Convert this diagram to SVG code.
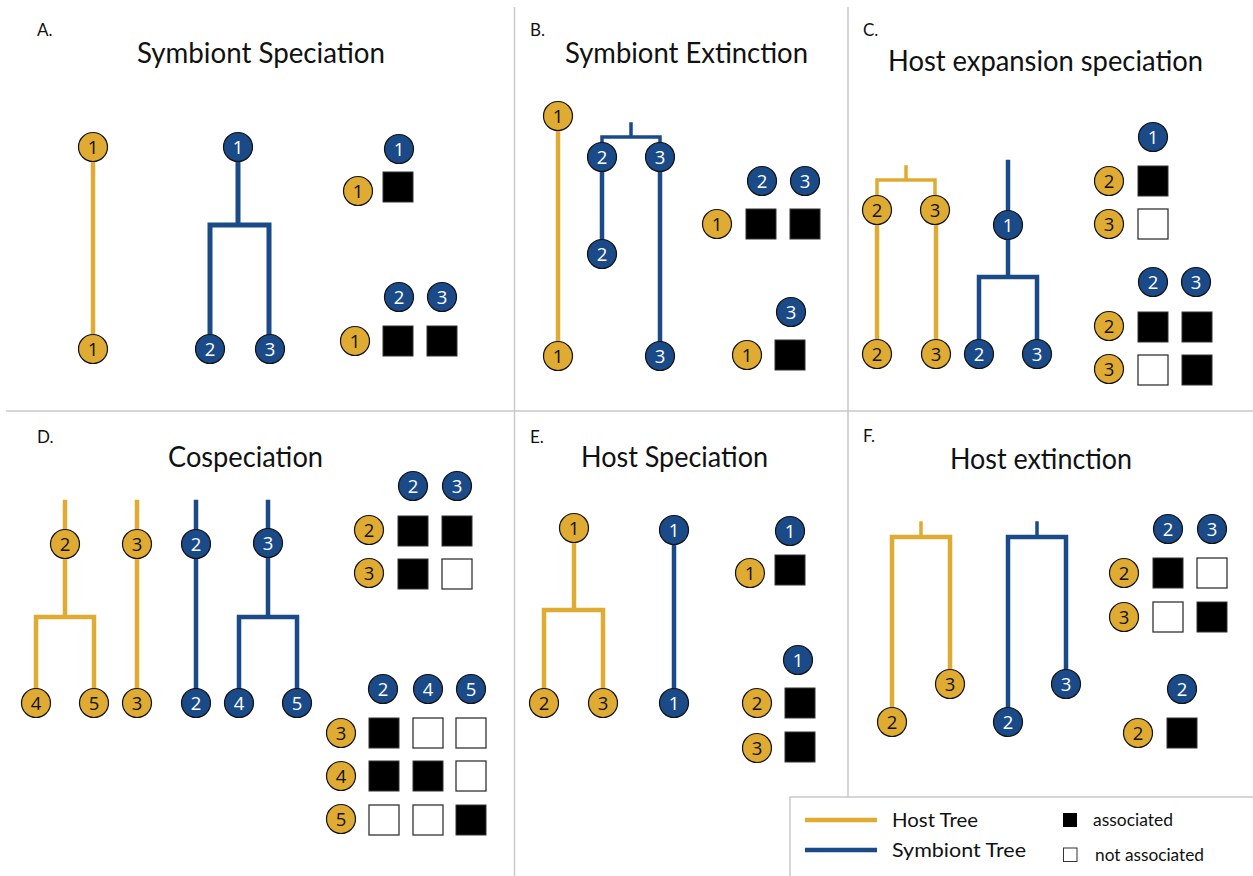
<svg xmlns="http://www.w3.org/2000/svg" width="1253" height="876" viewBox="0 0 1253 876">
  <style>
    .frame { stroke: #c9c9c9; stroke-width: 1.5; fill: none; }
    .host { stroke: #dfab33; stroke-width: 4.5; fill: none; stroke-linecap: square; }
    .sym { stroke: #1b4a89; stroke-width: 4.5; fill: none; stroke-linecap: square; }
    .hn circle { fill: #dfab33; stroke: #111; stroke-width: 1.2; }
    .sn circle { fill: #1b4a89; stroke: #111; stroke-width: 1.2; }
    .hn text, .sn text { font-family: "Open Sans", "Noto Sans", sans-serif; font-size: 18.5px; text-anchor: middle; }
    .hn text { fill: #111; }
    .sn text { fill: #fff; }
    .on { fill: #000; stroke: #333; stroke-width: 1; }
    .off { fill: #fff; stroke: #333; stroke-width: 1.3; }
    .title { font-family: "Lato", "Open Sans", sans-serif; font-size: 28px; fill: #111; text-anchor: middle; }
    .tag { font-family: "Lato", "Open Sans", sans-serif; font-size: 17px; fill: #111; }
    .leg { font-family: "Lato", "Open Sans", sans-serif; font-size: 19px; fill: #111; }
    .legs { font-family: "Lato", "Open Sans", sans-serif; font-size: 16.5px; fill: #111; }
  </style>

  <rect x="0" y="0" width="1253" height="876" fill="#fff"/>

  <!-- panel frame -->
  <g id="frame">
    <line class="frame" x1="514.5" y1="7" x2="514.5" y2="876"/>
    <line class="frame" x1="848" y1="7" x2="848" y2="797"/>
    <line class="frame" x1="6" y1="411" x2="1253" y2="411"/>
  </g>

  <!-- panel tags and titles -->
  <g id="labels">
    <text class="tag" x="37" y="36">A.</text>
    <text class="tag" x="530" y="36">B.</text>
    <text class="tag" x="863" y="36">C.</text>
    <text class="tag" x="37" y="443">D.</text>
    <text class="tag" x="530" y="443">E.</text>
    <text class="tag" x="863" y="442">F.</text>
    <text class="title" x="261" y="63" textLength="248" lengthAdjust="spacingAndGlyphs">Symbiont Speciation</text>
    <text class="title" x="686.5" y="63" textLength="243" lengthAdjust="spacingAndGlyphs">Symbiont Extinction</text>
    <text class="title" x="1045.5" y="71" textLength="315" lengthAdjust="spacingAndGlyphs">Host expansion speciation</text>
    <text class="title" x="245.5" y="467" textLength="155" lengthAdjust="spacingAndGlyphs">Cospeciation</text>
    <text class="title" x="674.5" y="467" textLength="187" lengthAdjust="spacingAndGlyphs">Host Speciation</text>
    <text class="title" x="1041" y="469" textLength="182" lengthAdjust="spacingAndGlyphs">Host extinction</text>
  </g>

  <!-- tree branches -->
  <g id="connectors">
    <!-- A -->
    <path class="host" d="M93 147 V349"/>
    <path class="sym" style="stroke-width:5" d="M238 147 V225 M210 349 V225 H269 V349"/>
    <!-- B -->
    <path class="host" d="M558 116 V356"/>
    <path class="sym" style="stroke-width:3.5" d="M631 124 V137 M602 157 V137 H660 V157"/>
    <path class="sym" d="M602 157 V254 M660 157 V356"/>
    <!-- C -->
    <path class="host" style="stroke-width:3.5" d="M906 167 V180 M877 210 V180 H935 V210"/>
    <path class="host" d="M877 210 V354 M936 210 V354"/>
    <path class="sym" d="M1008 162 V277 M979 354 V277 H1037 V354"/>
    <!-- D -->
    <path class="host" d="M65 502 V617 M36 703 V617 H94 V703"/>
    <path class="host" d="M137 502 V703"/>
    <path class="sym" d="M196 502 V703"/>
    <path class="sym" d="M268 502 V617 M239 703 V617 H297 V703"/>
    <!-- E -->
    <path class="host" d="M574 528 V610 M544 703 V610 H603 V703"/>
    <path class="sym" d="M674 530 V703"/>
    <!-- F -->
    <path class="host" style="stroke-width:3.5" d="M921 523 V537"/>
    <path class="host" d="M892 722 V537 H950 V684"/>
    <path class="sym" style="stroke-width:3.5" d="M1037 523 V537"/>
    <path class="sym" d="M1008 722 V537 H1066 V684"/>
  </g>

  <!-- A: tree nodes -->
  <g id="a-h1-top" class="hn"><circle cx="93" cy="147" r="14.5"/><text x="93" y="153.5">1</text></g>
  <g id="a-h1-tip" class="hn"><circle cx="93" cy="349" r="14.5"/><text x="93" y="355.5">1</text></g>
  <g id="a-s1" class="sn"><circle cx="238" cy="147" r="14.5"/><text x="238" y="153.5">1</text></g>
  <g id="a-s2" class="sn"><circle cx="210" cy="349" r="14.5"/><text x="210" y="355.5">2</text></g>
  <g id="a-s3" class="sn"><circle cx="270" cy="349" r="14.5"/><text x="270" y="355.5">3</text></g>
  <!-- A: matrices -->
  <g id="a-m1">
    <g class="sn"><circle cx="399" cy="149" r="14.5"/><text x="399" y="155.5">1</text></g>
    <g class="hn"><circle cx="358" cy="191" r="14.5"/><text x="358" y="197.5">1</text></g>
    <rect class="on" x="383" y="172" width="30" height="30"/>
  </g>
  <g id="a-m2">
    <g class="sn"><circle cx="399" cy="297" r="14.5"/><text x="399" y="303.5">2</text></g>
    <g class="sn"><circle cx="442" cy="297" r="14.5"/><text x="442" y="303.5">3</text></g>
    <g class="hn"><circle cx="355" cy="341" r="14.5"/><text x="355" y="347.5">1</text></g>
    <rect class="on" x="383" y="326" width="30" height="30"/>
    <rect class="on" x="427" y="326" width="30" height="30"/>
  </g>

  <!-- B: tree nodes -->
  <g id="b-h1-top" class="hn"><circle cx="558" cy="116" r="14.5"/><text x="558" y="122.5">1</text></g>
  <g id="b-h1-tip" class="hn"><circle cx="558" cy="356" r="14.5"/><text x="558" y="362.5">1</text></g>
  <g id="b-s2" class="sn"><circle cx="602" cy="157" r="14.5"/><text x="602" y="163.5">2</text></g>
  <g id="b-s3" class="sn"><circle cx="660" cy="157" r="14.5"/><text x="660" y="163.5">3</text></g>
  <g id="b-s2-tip" class="sn"><circle cx="602" cy="254" r="14.5"/><text x="602" y="260.5">2</text></g>
  <g id="b-s3-tip" class="sn"><circle cx="660" cy="356" r="14.5"/><text x="660" y="362.5">3</text></g>
  <!-- B: matrices -->
  <g id="b-m1">
    <g class="sn"><circle cx="762" cy="181" r="14.5"/><text x="762" y="187.5">2</text></g>
    <g class="sn"><circle cx="805" cy="181" r="14.5"/><text x="805" y="187.5">3</text></g>
    <g class="hn"><circle cx="717" cy="224" r="14.5"/><text x="717" y="230.5">1</text></g>
    <rect class="on" x="746" y="209" width="30" height="30"/>
    <rect class="on" x="790" y="209" width="30" height="30"/>
  </g>
  <g id="b-m2">
    <g class="sn"><circle cx="791" cy="312" r="14.5"/><text x="791" y="318.5">3</text></g>
    <g class="hn"><circle cx="747" cy="355" r="14.5"/><text x="747" y="361.5">1</text></g>
    <rect class="on" x="775" y="340" width="30" height="30"/>
  </g>

  <!-- C: tree nodes -->
  <g id="c-h2" class="hn"><circle cx="877" cy="210" r="14.5"/><text x="877" y="216.5">2</text></g>
  <g id="c-h3" class="hn"><circle cx="935" cy="210" r="14.5"/><text x="935" y="216.5">3</text></g>
  <g id="c-h2-tip" class="hn"><circle cx="877" cy="354" r="14.5"/><text x="877" y="360.5">2</text></g>
  <g id="c-h3-tip" class="hn"><circle cx="936" cy="354" r="14.5"/><text x="936" y="360.5">3</text></g>
  <g id="c-s1" class="sn"><circle cx="1008" cy="225" r="14.5"/><text x="1008" y="231.5">1</text></g>
  <g id="c-s2" class="sn"><circle cx="979" cy="354" r="14.5"/><text x="979" y="360.5">2</text></g>
  <g id="c-s3" class="sn"><circle cx="1037" cy="354" r="14.5"/><text x="1037" y="360.5">3</text></g>
  <!-- C: matrices -->
  <g id="c-m1">
    <g class="sn"><circle cx="1153" cy="137" r="14.5"/><text x="1153" y="143.5">1</text></g>
    <g class="hn"><circle cx="1109" cy="181" r="14.5"/><text x="1109" y="187.5">2</text></g>
    <g class="hn"><circle cx="1109" cy="224" r="14.5"/><text x="1109" y="230.5">3</text></g>
    <rect class="on" x="1138" y="166" width="30" height="30"/>
    <rect class="off" x="1138" y="209" width="30" height="30"/>
  </g>
  <g id="c-m2">
    <g class="sn"><circle cx="1153" cy="282" r="14.5"/><text x="1153" y="288.5">2</text></g>
    <g class="sn"><circle cx="1196" cy="282" r="14.5"/><text x="1196" y="288.5">3</text></g>
    <g class="hn"><circle cx="1109" cy="326" r="14.5"/><text x="1109" y="332.5">2</text></g>
    <g class="hn"><circle cx="1109" cy="369" r="14.5"/><text x="1109" y="375.5">3</text></g>
    <rect class="on" x="1138" y="312" width="30" height="30"/>
    <rect class="on" x="1182" y="312" width="30" height="30"/>
    <rect class="off" x="1138" y="355" width="30" height="30"/>
    <rect class="on" x="1182" y="355" width="30" height="30"/>
  </g>

  <!-- D: tree nodes -->
  <g id="d-h2" class="hn"><circle cx="65" cy="544" r="14.5"/><text x="65" y="550.5">2</text></g>
  <g id="d-h3" class="hn"><circle cx="137" cy="544" r="14.5"/><text x="137" y="550.5">3</text></g>
  <g id="d-s2" class="sn"><circle cx="196" cy="544" r="14.5"/><text x="196" y="550.5">2</text></g>
  <g id="d-s3" class="sn"><circle cx="268" cy="543" r="14.5"/><text x="268" y="549.5">3</text></g>
  <g id="d-h4" class="hn"><circle cx="36" cy="703" r="14.5"/><text x="36" y="709.5">4</text></g>
  <g id="d-h5" class="hn"><circle cx="94" cy="703" r="14.5"/><text x="94" y="709.5">5</text></g>
  <g id="d-h3-tip" class="hn"><circle cx="137" cy="703" r="14.5"/><text x="137" y="709.5">3</text></g>
  <g id="d-s2-tip" class="sn"><circle cx="196" cy="703" r="14.5"/><text x="196" y="709.5">2</text></g>
  <g id="d-s4" class="sn"><circle cx="239" cy="703" r="14.5"/><text x="239" y="709.5">4</text></g>
  <g id="d-s5" class="sn"><circle cx="297" cy="703" r="14.5"/><text x="297" y="709.5">5</text></g>
  <!-- D: matrices -->
  <g id="d-m1">
    <g class="sn"><circle cx="413" cy="486" r="14.5"/><text x="413" y="492.5">2</text></g>
    <g class="sn"><circle cx="457" cy="486" r="14.5"/><text x="457" y="492.5">3</text></g>
    <g class="hn"><circle cx="369" cy="530" r="14.5"/><text x="369" y="536.5">2</text></g>
    <g class="hn"><circle cx="369" cy="573" r="14.5"/><text x="369" y="579.5">3</text></g>
    <rect class="on" x="398" y="516" width="30" height="30"/>
    <rect class="on" x="442" y="516" width="30" height="30"/>
    <rect class="on" x="398" y="559" width="30" height="30"/>
    <rect class="off" x="442" y="559" width="30" height="30"/>
  </g>
  <g id="d-m2">
    <g class="sn"><circle cx="383" cy="689" r="14.5"/><text x="383" y="695.5">2</text></g>
    <g class="sn"><circle cx="428" cy="689" r="14.5"/><text x="428" y="695.5">4</text></g>
    <g class="sn"><circle cx="471" cy="689" r="14.5"/><text x="471" y="695.5">5</text></g>
    <g class="hn"><circle cx="341" cy="733" r="14.5"/><text x="341" y="739.5">3</text></g>
    <g class="hn"><circle cx="341" cy="776" r="14.5"/><text x="341" y="782.5">4</text></g>
    <g class="hn"><circle cx="341" cy="819" r="14.5"/><text x="341" y="825.5">5</text></g>
    <rect class="on" x="369" y="718" width="30" height="30"/>
    <rect class="off" x="413" y="718" width="30" height="30"/>
    <rect class="off" x="456" y="718" width="30" height="30"/>
    <rect class="on" x="369" y="761" width="30" height="30"/>
    <rect class="on" x="413" y="761" width="30" height="30"/>
    <rect class="off" x="456" y="761" width="30" height="30"/>
    <rect class="off" x="369" y="805" width="30" height="30"/>
    <rect class="off" x="413" y="805" width="30" height="30"/>
    <rect class="on" x="456" y="805" width="30" height="30"/>
  </g>

  <!-- E: tree nodes -->
  <g id="e-h1" class="hn"><circle cx="574" cy="528" r="14.5"/><text x="574" y="534.5">1</text></g>
  <g id="e-h2" class="hn"><circle cx="544" cy="703" r="14.5"/><text x="544" y="709.5">2</text></g>
  <g id="e-h3" class="hn"><circle cx="603" cy="703" r="14.5"/><text x="603" y="709.5">3</text></g>
  <g id="e-s1-top" class="sn"><circle cx="674" cy="530" r="14.5"/><text x="674" y="536.5">1</text></g>
  <g id="e-s1-tip" class="sn"><circle cx="674" cy="703" r="14.5"/><text x="674" y="709.5">1</text></g>
  <!-- E: matrices -->
  <g id="e-m1">
    <g class="sn"><circle cx="790" cy="531" r="14.5"/><text x="790" y="537.5">1</text></g>
    <g class="hn"><circle cx="750" cy="573" r="14.5"/><text x="750" y="579.5">1</text></g>
    <rect class="on" x="775" y="555" width="30" height="30"/>
  </g>
  <g id="e-m2">
    <g class="sn"><circle cx="798" cy="660" r="14.5"/><text x="798" y="666.5">1</text></g>
    <g class="hn"><circle cx="757" cy="703" r="14.5"/><text x="757" y="709.5">2</text></g>
    <g class="hn"><circle cx="757" cy="748" r="14.5"/><text x="757" y="754.5">3</text></g>
    <rect class="on" x="785" y="688" width="30" height="30"/>
    <rect class="on" x="785" y="732" width="30" height="30"/>
  </g>

  <!-- F: tree nodes -->
  <g id="f-h2" class="hn"><circle cx="892" cy="722" r="14.5"/><text x="892" y="728.5">2</text></g>
  <g id="f-h3" class="hn"><circle cx="950" cy="684" r="14.5"/><text x="950" y="690.5">3</text></g>
  <g id="f-s2" class="sn"><circle cx="1008" cy="722" r="14.5"/><text x="1008" y="728.5">2</text></g>
  <g id="f-s3" class="sn"><circle cx="1066" cy="684" r="14.5"/><text x="1066" y="690.5">3</text></g>
  <!-- F: matrices -->
  <g id="f-m1">
    <g class="sn"><circle cx="1168" cy="529" r="14.5"/><text x="1168" y="535.5">2</text></g>
    <g class="sn"><circle cx="1212" cy="529" r="14.5"/><text x="1212" y="535.5">3</text></g>
    <g class="hn"><circle cx="1124" cy="573" r="14.5"/><text x="1124" y="579.5">2</text></g>
    <g class="hn"><circle cx="1124" cy="617" r="14.5"/><text x="1124" y="623.5">3</text></g>
    <rect class="on" x="1153" y="558" width="30" height="30"/>
    <rect class="off" x="1197" y="558" width="30" height="30"/>
    <rect class="off" x="1153" y="602" width="30" height="30"/>
    <rect class="on" x="1197" y="602" width="30" height="30"/>
  </g>
  <g id="f-m2">
    <g class="sn"><circle cx="1182" cy="689" r="14.5"/><text x="1182" y="695.5">2</text></g>
    <g class="hn"><circle cx="1138" cy="733" r="14.5"/><text x="1138" y="739.5">2</text></g>
    <rect class="on" x="1167" y="718" width="30" height="30"/>
  </g>

  <!-- legend -->
  <g id="legend">
    <rect x="790" y="797" width="470" height="90" fill="#fff" stroke="#c9c9c9" stroke-width="1.5"/>
    <line x1="805" y1="820" x2="877" y2="820" stroke="#dfab33" stroke-width="4.5"/>
    <line x1="805" y1="850" x2="877" y2="850" stroke="#1b4a89" stroke-width="4.5"/>
    <text class="leg" x="892" y="827" textLength="86" lengthAdjust="spacingAndGlyphs">Host Tree</text>
    <text class="leg" x="892" y="857" textLength="134" lengthAdjust="spacingAndGlyphs">Symbiont Tree</text>
    <rect x="1063" y="813" width="14" height="14" fill="#000"/>
    <rect x="1063.5" y="848" width="13.5" height="13.5" fill="#fff" stroke="#333" stroke-width="1"/>
    <text class="legs" x="1093" y="826" textLength="80" lengthAdjust="spacingAndGlyphs">associated</text>
    <text class="legs" x="1095" y="861" textLength="109" lengthAdjust="spacingAndGlyphs">not associated</text>
  </g>
</svg>
